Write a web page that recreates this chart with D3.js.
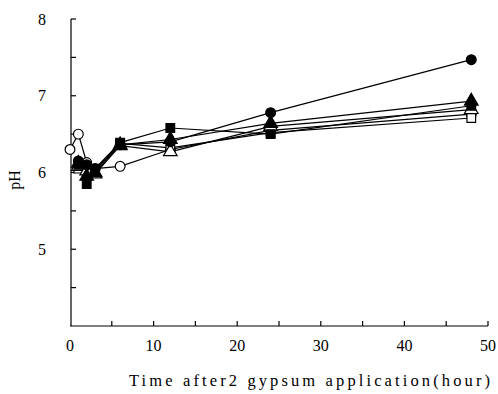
<!DOCTYPE html>
<html>
<head>
<meta charset="utf-8">
<script src="https://cdn.jsdelivr.net/npm/d3@7"></script>
<style>
  body { margin: 0; background: #fff; }
  text { font-family: "Liberation Serif", "DejaVu Serif", serif; fill: #000; }
</style>
</head>
<body>
<svg id="chart" width="498" height="394"></svg>
<script>
// data
const hours = [0, 1, 2, 3, 6, 12, 24, 48];
const openCircle     = [6.30, 6.50, 6.13, 6.05, 6.08, 6.30, 6.55, 6.76];
const filledCircle   = [null, 6.15, 6.10, 6.05, 6.36, 6.40, 6.78, 7.47];
const filledSquare   = [null, 6.10, 5.85, 6.05, 6.39, 6.58, 6.50, 6.87];
const openTriangle   = [null, 6.08, 6.02, 5.98, 6.35, 6.27, 6.60, 6.82];
const filledTriangle = [null, 6.12, 5.95, 6.00, 6.36, 6.43, 6.64, 6.93];
const openSquare     = [null, 6.05, 6.00, 6.02, 6.38, 6.32, 6.52, 6.71];

const xTicks = [0, 10, 20, 30, 40, 50];
const yTicks = [5, 6, 7, 8];

const series = [
  {values: openCircle, shape: "circle", fill: "#fff"},
  {values: openSquare, shape: "square", fill: "#fff"},
  {values: openTriangle, shape: "triangle", fill: "#fff"},
  {values: filledSquare, shape: "square", fill: "#000"},
  {values: filledTriangle, shape: "triangle", fill: "#000"},
  {values: filledCircle, shape: "circle", fill: "#000"},
];

const svg = d3.select("#chart");
const x = d3.scaleLinear().domain([0, 50]).range([70, 488]);
const y = d3.scaleLinear().domain([4, 8]).range([326, 19]);

// axes
const ax = svg.append("g").attr("stroke", "#000").attr("stroke-width", 1.2);
ax.append("line").attr("x1", 71).attr("x2", 71).attr("y1", y(8)).attr("y2", y(4));
ax.append("line").attr("x1", 70).attr("x2", x(50)).attr("y1", 326).attr("y2", 326);
d3.range(4.5, 8.01, 0.5).forEach(v => {
  ax.append("line").attr("x1", 71).attr("x2", 76).attr("y1", y(v)).attr("y2", y(v));
});
d3.range(5, 50.1, 5).forEach(v => {
  ax.append("line").attr("x1", x(v)).attr("x2", x(v)).attr("y1", 326).attr("y2", 321);
});

svg.append("g").selectAll("text").data(yTicks).join("text")
  .attr("x", 42).attr("y", d => y(d)).attr("dy", "0.35em")
  .attr("text-anchor", "middle").attr("font-size", 16).text(d => d);

svg.append("g").selectAll("text").data(xTicks).join("text")
  .attr("x", d => x(d)).attr("y", 351)
  .attr("text-anchor", "middle").attr("font-size", 16).text(d => d);

svg.append("text").attr("transform", "translate(20,180) rotate(-90)")
  .attr("text-anchor", "middle").attr("font-size", 16).text("pH");

svg.append("text").attr("x", 129).attr("y", 386).attr("font-size", 16.5)
  .attr("textLength", 361).attr("lengthAdjust", "spacing")
  .text("Time after2 gypsum application(hour)");

// lines
const line = d3.line().defined(d => d[1] != null).x(d => x(d[0])).y(d => y(d[1]));
series.forEach(s => {
  svg.append("path").datum(hours.map((h, i) => [h, s.values[i]]))
    .attr("fill", "none").attr("stroke", "#000").attr("stroke-width", 1.2)
    .attr("d", line);
});

// markers
const sym = {circle: d3.symbolCircle, square: d3.symbolSquare, triangle: d3.symbolTriangle};
series.forEach(s => {
  svg.append("g").selectAll("path")
    .data(hours.map((h, i) => [h, s.values[i]]).filter(d => d[1] != null))
    .join("path")
    .attr("transform", d => `translate(${x(d[0])},${y(d[1])})`)
    .attr("d", d3.symbol().type(sym[s.shape]).size(s.shape === "triangle" ? 80 : 75))
    .attr("fill", s.fill).attr("stroke", "#000").attr("stroke-width", 1.2);
});
</script>
</body>
</html>
